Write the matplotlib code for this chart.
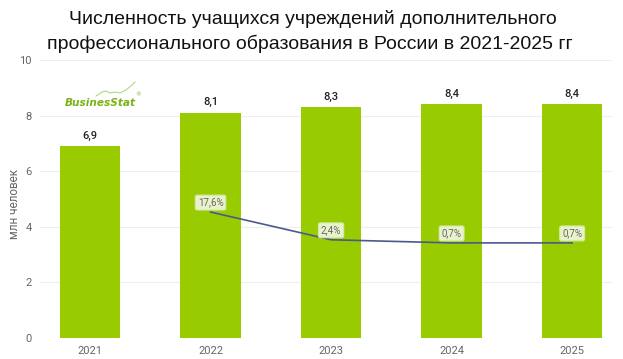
import matplotlib
matplotlib.use("Agg")
import matplotlib.pyplot as plt
import numpy as np

years = ["2021", "2022", "2023", "2024", "2025"]
values = [6.9, 8.1, 8.3, 8.4, 8.4]
value_labels = ["6,9", "8,1", "8,3", "8,4", "8,4"]
growth = [17.6, 2.4, 0.7, 0.7]
growth_labels = ["17,6%", "2,4%", "0,7%", "0,7%"]

fig = plt.figure(figsize=(6.23, 3.59), dpi=100)
ax = fig.add_axes([0.0642, 0.0585, 0.918, 0.7745])
x = np.arange(len(years))
ax.bar(x, values, width=0.5, color="#99cc00", zorder=2)
ax.set_xlim(-0.415, 4.33)
ax.set_ylim(0, 10)
ax.set_yticks([0, 2, 4, 6, 8, 10])
ax.grid(axis="y", color="#eeeeee", linewidth=0.8, zorder=0)
for s in ax.spines.values():
    s.set_visible(False)
ax.tick_params(length=0, labelsize=8, colors="#666666", pad=6)
ax.set_xticks(x)
ax.set_xticklabels(years, fontfamily="Roboto")
for lab in ax.get_yticklabels():
    lab.set_fontfamily("Roboto")
ax.set_ylabel("млн человек", fontsize=8.5, color="#666666", fontfamily="Roboto")
ax.yaxis.set_label_coords(-0.034, 0.482)

for xi, v, lab in zip(x, values, value_labels):
    ax.annotate(lab, (xi, v), xytext=(0, 7.5), textcoords="offset points",
                ha="center", va="center", fontsize=8, color="#222222",
                fontfamily="Roboto", fontweight="medium")

ax2 = ax.twinx()
ax2.set_ylim(-51.4, 100.9)
ax2.axis("off")
gx = x[1:]
ax2.plot(gx, growth, color="#4a5a8c", linewidth=1.2, zorder=3)
for xi, g, lab in zip(gx, growth, growth_labels):
    ax2.annotate(lab, (xi, g), xytext=(0, 6.8), textcoords="offset points",
                 ha="center", va="center", fontsize=7, color="#666666",
                 fontfamily="Roboto",
                 bbox=dict(boxstyle="round,pad=0.25,rounding_size=0.2",
                           fc="#e8f2cc", ec="#d6e8a8", lw=0.8))

fig.text(0.503, 0.947, "Численность учащихся учреждений дополнительного",
         ha="center", va="center", fontsize=14, fontfamily="Liberation Sans", color="#111111")
fig.text(0.498, 0.878, "профессионального образования в России в 2021-2025 гг",
         ha="center", va="center", fontsize=14, fontfamily="Liberation Sans", color="#111111")

# logo
fig.text(65 / 623, 1 - 103 / 359, "BusinesStat", fontsize=7.6, fontstyle="italic", fontweight="bold",
         color="#7ab317", fontfamily="DejaVu Sans", ha="left", va="center")
fig.text(135 / 623, 1 - 95 / 359, "®", fontsize=4, color="#7ab317", ha="left", va="center")
sx = np.array([96, 102, 106, 110, 115, 120, 126, 132, 135]) / 623
sy = 1 - np.array([96, 92, 91, 93, 92, 93, 90, 85, 82]) / 359
fig.add_artist(plt.Line2D(sx, sy, color="#a8d36a", linewidth=0.7, transform=fig.transFigure))

fig.savefig("out.png", dpi=100)
